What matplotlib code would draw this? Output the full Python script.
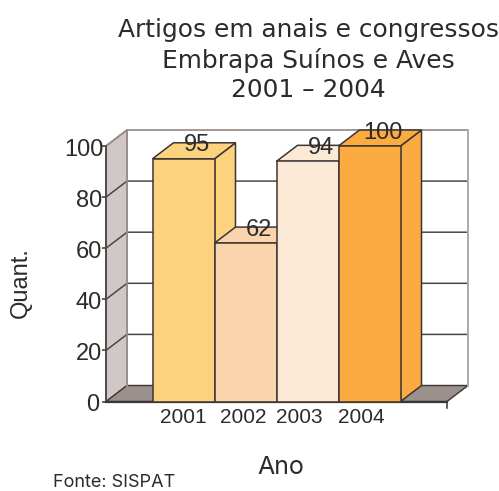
import matplotlib
matplotlib.use('Agg')
import matplotlib.pyplot as plt
from matplotlib.transforms import ScaledTranslation

plt.rcParams['font.family'] = ['Liberation Sans', 'DejaVu Sans']

anos = ['2001', '2002', '2003', '2004']
quant = [95, 62, 94, 100]
cores = ['#FCD27F', '#F9D4AD', '#FCE9D5', '#FBAB41']
yticks = [0, 20, 40, 60, 80, 100]
titulo = 'Artigos em anais e congressos\nEmbrapa Suínos e Aves\n2001 – 2004'

W, H = 499, 491
fig = plt.figure(figsize=(W / 100, H / 100), dpi=100)
# area frontal do grafico, em pixels da imagem
ax = fig.add_axes([106 / W, 1 - 401.5 / H, 341 / W, 255.5 / H])
ax.set_xlim(-1.25, 4.25)
ax.set_ylim(0, 100)

# profundidade do efeito 3d
dx = 21 / 62
dy = 16 / 2.555
x0, x1 = ax.get_xlim()
esc = '#3a3633'

for s in ['top', 'right', 'bottom']:
    ax.spines[s].set_visible(False)
ax.spines['left'].set_color('#4a4643')
ax.spines['left'].set_linewidth(1.3)

# paredes
ax.fill([x0, x0 + dx, x0 + dx, x0], [0, dy, 100 + dy, 100], fc='#CFC8C6', ec='#9A8F8C', lw=1.2, clip_on=False, zorder=1)
ax.fill([x0, x1, x1 + dx, x0 + dx], [0, 0, dy, dy], fc='#9C908C', ec=esc, lw=1.0, clip_on=False, zorder=1)

# grade
for v in yticks[1:-1]:
    ax.plot([x0, x0 + dx, x1 + dx], [v, v + dy, v + dy], color='#4a4643', lw=1.1, clip_on=False, zorder=2)
ax.plot([x0, x0 + dx, x1 + dx, x1 + dx], [100, 100 + dy, 100 + dy, dy], color='#9A8F8C', lw=1.3, clip_on=False, zorder=2)
ax.plot([x1 + dx, x1 + dx], [dy, 100 + dy], color='#B5ADAA', lw=1.3, clip_on=False, zorder=2)
ax.plot([x0 + dx, x0 + dx], [dy, 100 + dy], color='#9A8F8C', lw=1.3, clip_on=False, zorder=2)
ax.plot([x0, x1], [0, 0], color=esc, lw=1.6, clip_on=False, zorder=3)
ax.plot([x1, x1], [0, -2.5], color=esc, lw=1.1, clip_on=False, zorder=3)

# barras 3d
for i, v in enumerate(quant):
    z = 3 + i
    l, r = i - 0.5, i + 0.5
    ax.fill([r, r + dx, r + dx, r], [0, dy, v + dy, v], fc=cores[i], ec=esc, lw=1.1, clip_on=False, zorder=z)
    ax.fill([l, r, r + dx, l + dx], [v, v, v + dy, v + dy], fc=cores[i], ec=esc, lw=1.1, clip_on=False, zorder=z)
    ax.fill([l, r, r, l], [0, 0, v, v], fc=cores[i], ec=esc, lw=1.1, clip_on=False, zorder=z)
    ax.text(i + 0.21, v + dy - 1.0, str(v), ha='center', va='center', fontsize=17, color='#2b2b2b', zorder=10, clip_on=False)

# os rotulos do eixo x nao ficam centrados nas barras no original
ax.set_xticks([-0.01, 0.97, 1.86, 2.875])
ax.set_xticklabels(anos, fontsize=15, color='#2b2b2b')
ax.tick_params(axis='x', length=0, pad=5)
ax.set_yticks(yticks)
ax.tick_params(axis='y', labelsize=17, labelcolor='#2b2b2b', length=3, width=1.2, color='#4a4643', pad=0)

# 100 e 0 deslocados em relacao aos outros
desloc = {'0': -3, '100': 2}
for lab, v in zip(ax.get_yticklabels(), yticks):
    d = desloc.get(str(v), 0)
    lab.set_transform(lab.get_transform() + ScaledTranslation(d / 100, -1 / 100, fig.dpi_scale_trans))

fig.text(308 / W, 1 - 60 / H, titulo, ha='center', va='center', fontsize=17.9, color='#2b2b2b', linespacing=1.3, family='DejaVu Sans')
fig.text(280.5 / W, 1 - 467 / H, 'Ano', ha='center', va='center', fontsize=18, color='#2b2b2b', family=['Inter', 'DejaVu Sans'])
fig.text(21 / W, 1 - 282.5 / H, 'Quant.', ha='center', va='center', rotation=90, fontsize=17, color='#2b2b2b')
fig.text(114.5 / W, 1 - 482.5 / H, 'Fonte: SISPAT', ha='center', va='center', fontsize=13, color='#2b2b2b', family=['Inter', 'DejaVu Sans'])

fig.savefig('out.png', dpi=100)
